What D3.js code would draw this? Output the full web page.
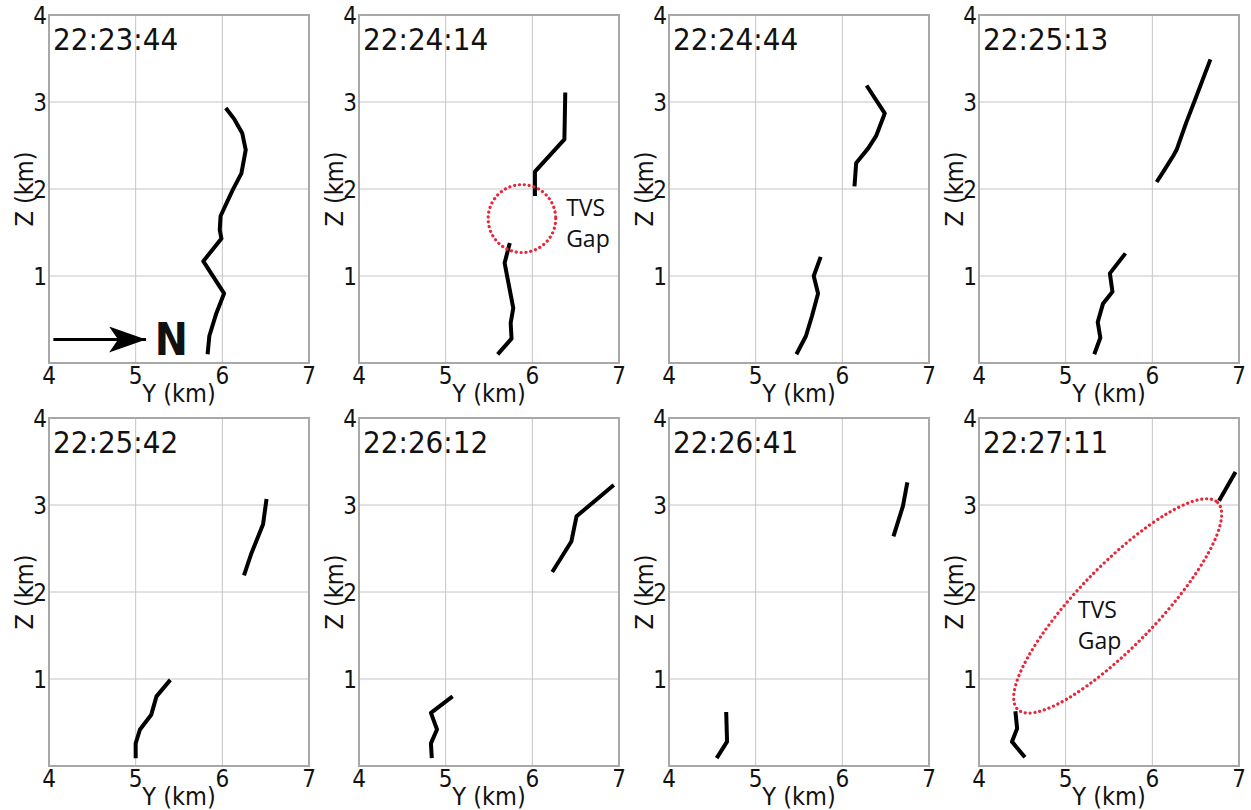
<!DOCTYPE html>
<html lang="en">
  <head>
    <meta charset="UTF-8" />
    <title>TVS tracks</title>
    <style>
      body {
        margin: 0;
        background: #fff;
      }
      text {
        font-family: "DejaVu Sans Condensed", "DejaVu Sans", sans-serif;
        font-stretch: condensed;
        fill: #111;
      }
      .note {
        font-family: "Open Sans", sans-serif;
        font-stretch: normal;
      }
    </style>
  </head>
  <body>
    <div id="chart"></div>

    <script src="https://cdn.jsdelivr.net/npm/d3@7"></script>

    <script>
      // panel titles (scan times)
      var times = ["22:23:44", "22:24:14", "22:24:44", "22:25:13",
                   "22:25:42", "22:26:12", "22:26:41", "22:27:11"];
      var yTicks = [4, 5, 6, 7];
      var zTicks = [1, 2, 3, 4];

      // TVS track segments per panel, points are [Y km, Z km]
      var track1 = [
        [[6.04, 2.93], [6.14, 2.80], [6.23, 2.64], [6.27, 2.45], [6.22, 2.18], [6.12, 1.99],
         [6.05, 1.84], [5.98, 1.69], [5.97, 1.53], [5.99, 1.43], [5.78, 1.17], [6.02, 0.80],
         [5.93, 0.57], [5.85, 0.31], [5.83, 0.10]]
      ];
      var track2 = [
        [[6.38, 3.11], [6.37, 2.57], [6.03, 2.20], [6.03, 1.92]],
        [[5.74, 1.38], [5.68, 1.15], [5.78, 0.63], [5.75, 0.46], [5.76, 0.28], [5.60, 0.10]]
      ];
      var track3 = [
        [[6.28, 3.19], [6.49, 2.87], [6.39, 2.61], [6.30, 2.47], [6.16, 2.30], [6.14, 2.03]],
        [[5.75, 1.22], [5.67, 1.00], [5.72, 0.80], [5.65, 0.54], [5.58, 0.31], [5.47, 0.10]]
      ];
      var track4 = [
        [[6.67, 3.49], [6.51, 3.07], [6.39, 2.76], [6.28, 2.45], [6.24, 2.38], [6.14, 2.22], [6.05, 2.08]],
        [[5.69, 1.26], [5.51, 1.03], [5.54, 0.82], [5.43, 0.68], [5.37, 0.47], [5.40, 0.29], [5.33, 0.10]]
      ];
      var track5 = [
        [[6.51, 3.07], [6.47, 2.78], [6.33, 2.43], [6.25, 2.19]],
        [[5.40, 0.99], [5.24, 0.80], [5.18, 0.59], [5.05, 0.42], [5.00, 0.26], [5.00, 0.09]]
      ];
      var track6 = [
        [[6.94, 3.23], [6.51, 2.87], [6.45, 2.58], [6.23, 2.23]],
        [[5.08, 0.80], [4.83, 0.61], [4.90, 0.42], [4.83, 0.26], [4.84, 0.09]]
      ];
      var track7 = [
        [[6.75, 3.26], [6.70, 2.99], [6.59, 2.64]],
        [[4.66, 0.62], [4.67, 0.28], [4.55, 0.09]]
      ];
      var track8 = [
        [[6.96, 3.38], [6.77, 3.05]],
        [[4.42, 0.63], [4.44, 0.43], [4.38, 0.28], [4.53, 0.10]]
      ];
      var tracks = [track1, track2, track3, track4, track5, track6, track7, track8];

      // "TVS Gap" markers: panel, centre [Y, Z], semi axes (km), tilt (deg), label anchor [Y, Z]
      var gapPanels = [1, 7];
      var gapCentres = [[5.88, 1.66], [5.60, 1.84]];
      var gapRadii = [[0.39, 0.39], [1.66, 0.46]];
      var gapTilt = [0, -46];
      var gapLabels = [[6.39, 1.69], [5.14, 1.70]];

      // north arrow in the first panel
      var arrowFrom = [4.05, 0.27], arrowTo = [5.12, 0.27], northAt = [5.22, 0.09];

      ///////////////////////////////////////////////////////////////////////////
      ////////////////////////////// Layout /////////////////////////////////////
      ///////////////////////////////////////////////////////////////////////////

      var W = 1251, H = 810;
      var pw = 260, ph = 348;
      var colStep = 310, rowTops = [15, 418], left0 = 49;

      var svg = d3.select("#chart").append("svg")
        .attr("width", W).attr("height", H);

      var x = d3.scaleLinear().domain([4, 7]).range([0, pw]);
      var y = d3.scaleLinear().domain([0, 4]).range([ph, 0]);

      var line = d3.line()
        .x(function(d) { return x(d[0]); })
        .y(function(d) { return y(d[1]); });

      svg.append("defs").append("marker")
        .attr("id", "head")
        .attr("viewBox", "0 0 37 26")
        .attr("refX", 37).attr("refY", 13)
        .attr("markerWidth", 37).attr("markerHeight", 26)
        .attr("markerUnits", "userSpaceOnUse")
        .attr("orient", "auto")
        .append("path")
        .attr("d", "M0,0 L37,13 L0,26 L9,13 Z")
        .attr("fill", "#000");

      times.forEach(function(t, i) {
        var col = i % 4, row = Math.floor(i / 4);
        var g = svg.append("g")
          .attr("transform", "translate(" + (left0 + col * colStep) + "," + rowTops[row] + ")");

        //grid
        g.append("g").selectAll("line.gx").data([5, 6]).enter().append("line")
          .attr("x1", function(d) { return x(d); }).attr("x2", function(d) { return x(d); })
          .attr("y1", 0).attr("y2", ph)
          .style("stroke", "#c4c4c4").style("stroke-width", 1);
        g.append("g").selectAll("line.gy").data([1, 2, 3]).enter().append("line")
          .attr("y1", function(d) { return y(d); }).attr("y2", function(d) { return y(d); })
          .attr("x1", 0).attr("x2", pw)
          .style("stroke", "#c4c4c4").style("stroke-width", 1);

        //frame
        g.append("rect")
          .attr("width", pw).attr("height", ph)
          .style("fill", "none").style("stroke", "#a8a8a8").style("stroke-width", 2);

        //tick labels
        g.selectAll("text.xt").data(yTicks).enter().append("text")
          .attr("x", function(d) { return x(d); })
          .attr("y", ph + 21)
          .attr("text-anchor", "middle")
          .style("font-size", "24px")
          .text(function(d) { return d; });
        g.selectAll("text.yt").data(zTicks).enter().append("text")
          .attr("x", -2)
          .attr("y", function(d) { return y(d); })
          .attr("dy", "0.36em")
          .attr("text-anchor", "end")
          .style("font-size", "24px")
          .text(function(d) { return d; });

        //axis titles
        g.append("text")
          .attr("x", pw / 2).attr("y", ph + 39)
          .attr("text-anchor", "middle")
          .style("font-size", "25px")
          .text("Y (km)");
        g.append("text")
          .attr("transform", "translate(-16," + ph / 2 + ") rotate(-90)")
          .attr("text-anchor", "middle")
          .style("font-size", "25px")
          .text("Z (km)");

        //time stamp
        g.append("text")
          .attr("x", 4).attr("y", 35)
          .style("font-size", "31px")
          .text(t);

        //track segments
        g.selectAll("path.trk").data(tracks[i]).enter().append("path")
          .attr("d", line)
          .style("fill", "none")
          .style("stroke", "#000")
          .style("stroke-width", 4)
          .style("stroke-linejoin", "round")
          .style("stroke-linecap", "butt");

        //TVS gap ellipse
        var k = gapPanels.indexOf(i);
        if (k >= 0) {
          var c = gapCentres[k];
          g.append("ellipse")
            .attr("transform", "translate(" + x(c[0]) + "," + y(c[1]) + ") rotate(" + gapTilt[k] + ")")
            .attr("rx", x(4 + gapRadii[k][0]))
            .attr("ry", ph - y(gapRadii[k][1]))
            .style("fill", "none")
            .style("stroke", "#e5283a")
            .style("stroke-width", 3.2)
            .style("stroke-linecap", "round")
            .style("stroke-dasharray", "0.1 4.8");
          var lb = g.append("text")
            .attr("class", "note")
            .attr("x", x(gapLabels[k][0]))
            .attr("y", y(gapLabels[k][1]))
            .style("font-size", "23px");
          lb.append("tspan").text("TVS");
          lb.append("tspan")
            .attr("x", x(gapLabels[k][0]))
            .attr("dy", 31)
            .text("Gap");
        }

        //north arrow
        if (i === 0) {
          g.append("line")
            .attr("x1", x(arrowFrom[0])).attr("y1", y(arrowFrom[1]))
            .attr("x2", x(arrowTo[0])).attr("y2", y(arrowTo[1]))
            .style("stroke", "#000").style("stroke-width", 3)
            .attr("marker-end", "url(#head)");
          g.append("text")
            .attr("x", x(northAt[0])).attr("y", y(northAt[1]))
            .style("font-size", "44px")
            .style("font-weight", "bold")
            .text("N");
        }
      });
    </script>
  </body>
</html>
